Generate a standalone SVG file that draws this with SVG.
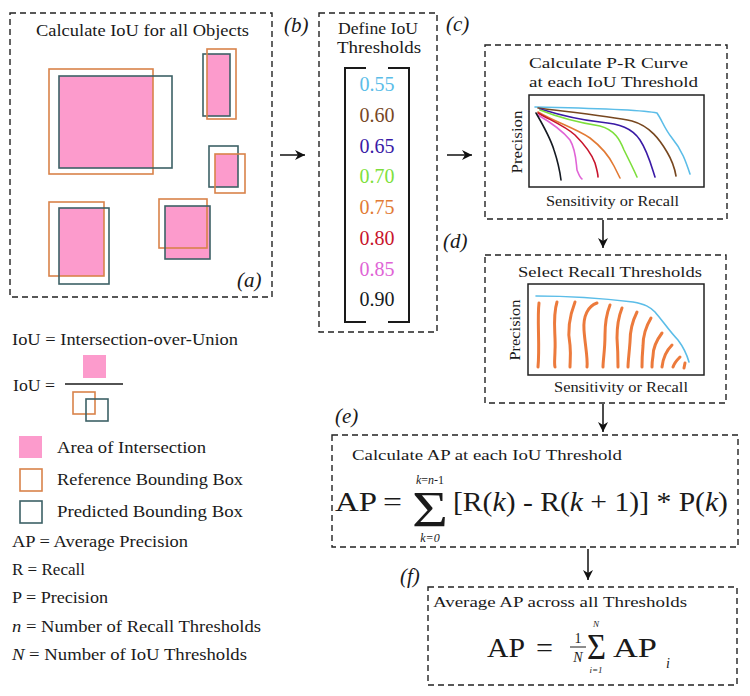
<svg xmlns="http://www.w3.org/2000/svg" width="750" height="696" viewBox="0 0 750 696" font-family="'Liberation Serif', 'Times New Roman', serif">
<defs>
<style>
text{font-family:"Liberation Serif","Times New Roman",serif;fill:#1a1a1a}
.dash{fill:none;stroke:#222;stroke-width:1.4;stroke-dasharray:6 4}
.ref{fill:none;stroke:#d9834a;stroke-width:1.6}
.pred{fill:none;stroke:#3d6166;stroke-width:1.6}
.pink{fill:#fc9bcc}
.t15{font-size:15.5px}
.t16{font-size:16px}
.lab{font-size:21px;font-style:italic}
.num{font-size:20px;text-anchor:middle}
.ax{font-size:14px}
.plot{fill:#fff;stroke:#222;stroke-width:1.5}
.cv{fill:none;stroke-width:1.6;stroke-linecap:round;stroke-linejoin:round}
.os{fill:none;stroke:#ec7a3c;stroke-width:3;stroke-linecap:round}
.br{fill:none;stroke:#1a1a1a;stroke-width:2}
.conn{stroke:#111;stroke-width:1.5;fill:none}
.big{font-size:27px}
</style>
<marker id="ah" markerWidth="12" markerHeight="12" refX="10" refY="5" orient="auto" markerUnits="userSpaceOnUse">
<path d="M0,0 L10,5 L0,10 L3,5 z" fill="#111"/>
</marker>
</defs>
<rect width="750" height="696" fill="#fff"/>

<g id="panel-a">
<rect class="dash" x="10" y="13" width="262" height="284"/>
<text class="t16" x="36" y="36" textLength="213" lengthAdjust="spacingAndGlyphs">Calculate IoU for all Objects</text>
<rect class="pink" x="59" y="76" width="94" height="92"/>
<rect class="ref" x="49" y="69" width="104" height="105"/>
<rect class="pred" x="59" y="76" width="113" height="92"/>
<rect class="pink" x="207" y="54" width="23" height="62"/>
<rect class="pred" x="203" y="54" width="27" height="62"/>
<rect class="ref" x="207" y="49" width="29" height="70"/>
<rect class="pink" x="215" y="154" width="23" height="33"/>
<rect class="pred" x="209" y="146" width="29" height="41"/>
<rect class="ref" x="215" y="154" width="30" height="39"/>
<rect class="pink" x="59" y="208" width="45" height="68"/>
<rect class="ref" x="49" y="202" width="55" height="74"/>
<rect class="pred" x="59" y="208" width="50" height="76"/>
<rect class="pink" x="165" y="206" width="45" height="53"/>
<rect class="ref" x="159" y="199" width="48" height="49"/>
<rect class="pred" x="165" y="206" width="45" height="53"/>
<text class="lab" x="237" y="287">(a)</text>
</g>

<g id="panel-b">
<rect class="dash" x="319" y="13" width="118" height="319"/>
<text class="t16" x="338" y="34" textLength="80" lengthAdjust="spacingAndGlyphs">Define IoU</text>
<text class="t16" x="337" y="53" textLength="84" lengthAdjust="spacingAndGlyphs">Thresholds</text>
<path class="br" d="M366,68 H345 V322 H366"/>
<path class="br" d="M388,68 H409 V322 H388"/>
<text class="num" x="377" y="91" style="fill:#5bbde8">0.55</text>
<text class="num" x="377" y="122" style="fill:#77471f">0.60</text>
<text class="num" x="377" y="153" style="fill:#3a1aa6">0.65</text>
<text class="num" x="377" y="183" style="fill:#7ddf3c">0.70</text>
<text class="num" x="377" y="214" style="fill:#e27a34">0.75</text>
<text class="num" x="377" y="245" style="fill:#c8142c">0.80</text>
<text class="num" x="377" y="276" style="fill:#e064d6">0.85</text>
<text class="num" x="377" y="306" style="fill:#151a22">0.90</text>
<text class="lab" x="284" y="32">(b)</text>
</g>

<g id="panel-c">
<rect class="dash" x="485" y="45" width="242" height="174"/>
<text class="t15" x="529" y="68" textLength="159" lengthAdjust="spacingAndGlyphs">Calculate P-R Curve</text>
<text class="t15" x="529" y="87" textLength="169" lengthAdjust="spacingAndGlyphs">at each IoU Threshold</text>
<rect class="plot" x="529" y="95" width="175" height="92"/>
<text class="ax" transform="translate(522,142) rotate(-90)" text-anchor="middle" textLength="63" lengthAdjust="spacingAndGlyphs">Precision</text>
<text class="ax" x="546" y="206" textLength="133" lengthAdjust="spacingAndGlyphs">Sensitivity or Recall</text>
<path class="cv" stroke="#5bbde8" d="M535,107 C580,108 640,109 657,113 C662,120 664,128 672,138 C682,150 686,162 690,174"/>
<path class="cv" stroke="#77471f" d="M538,108 C560,111 610,116 632,121 C650,126 660,140 667,152 C673,162 675,170 676,176"/>
<path class="cv" stroke="#3a1aa6" d="M540,109 C560,115 580,120 600,122 C620,124 632,128 640,140 C648,152 652,168 655,177"/>
<path class="cv" stroke="#7ddf3c" d="M540,110 C555,116 575,122 600,126 C615,130 620,140 624,150 C628,158 633,168 637,177"/>
<path class="cv" stroke="#e27a34" d="M538,112 C555,122 575,128 590,138 C603,148 610,158 614,166 C617,172 619,176 620,178"/>
<path class="cv" stroke="#c8142c" d="M538,113 C550,120 565,126 575,135 C585,145 592,155 595,163 C597,170 598,175 598,177"/>
<path class="cv" stroke="#e064d6" d="M538,115 C550,122 562,130 570,140 C576,150 576,162 577,170 C579,175 580,178 582,179"/>
<path class="cv" stroke="#151a22" d="M536,113 C543,125 550,137 554,150 C558,162 560,172 561,180"/>
<text class="lab" x="446" y="31">(c)</text>
</g>

<g id="panel-d">
<rect class="dash" x="485" y="255" width="241" height="148"/>
<text class="t15" x="518" y="277" textLength="184" lengthAdjust="spacingAndGlyphs">Select Recall Thresholds</text>
<rect class="plot" x="528" y="284" width="176" height="91"/>
<text class="ax" transform="translate(520,330) rotate(-90)" text-anchor="middle" textLength="61" lengthAdjust="spacingAndGlyphs">Precision</text>
<text class="ax" x="554" y="392" textLength="134" lengthAdjust="spacingAndGlyphs">Sensitivity or Recall</text>
<path class="cv" stroke="#5bbde8" d="M536,296 C560,296 600,298 633,302 C645,304 650,307 655,312 C662,320 670,332 678,340 C684,348 687,355 689,362"/>
<path class="os" d="M539,303 C537,320 540,345 538,367"/>
<path class="os" d="M557,302 C552,318 556,335 555,350 C555,358 554,363 555,367"/>
<path class="os" d="M575,302 C570,315 567,330 570,345 C571,355 570,362 570,367"/>
<path class="os" d="M597,303 C588,306 583,316 584,330 C585,345 588,358 587,367"/>
<path class="os" d="M610,305 C606,315 605,325 605,335 C605,350 603,360 603,367"/>
<path class="os" d="M622,308 C618,318 617,328 617,338 C618,352 618,362 618,367"/>
<path class="os" d="M637,312 C632,322 630,332 630,342 C629,355 628,362 628,367"/>
<path class="os" d="M651,318 C645,328 643,338 643,346 C642,357 642,363 642,367"/>
<path class="os" d="M662,333 C656,341 653,350 653,356 C652,362 652,365 652,367"/>
<path class="os" d="M672,345 C666,351 663,358 662,367"/>
<path class="os" d="M680,357 C676,361 674,364 673,367"/>
<path class="os" d="M685,363 L684,368"/>
<text class="lab" x="443" y="248">(d)</text>
</g>

<g id="panel-e">
<rect class="dash" x="332" y="435" width="406" height="112"/>
<text class="t15" x="352" y="460" textLength="270" lengthAdjust="spacingAndGlyphs">Calculate AP at each IoU Threshold</text>
<text class="big" x="335" y="511" textLength="42" lengthAdjust="spacingAndGlyphs">AP</text>
<text class="big" x="383" y="511" textLength="19" lengthAdjust="spacingAndGlyphs">=</text>
<text x="412" y="526" style="font-size:50px" textLength="36" lengthAdjust="spacingAndGlyphs">Σ</text>
<text x="430" y="484" text-anchor="middle" style="font-size:12px"><tspan font-style="italic">k</tspan>=<tspan font-style="italic">n</tspan>-1</text>
<text x="430" y="542" text-anchor="middle" style="font-size:12px;font-style:italic">k=0</text>
<text class="big" x="453" y="511" textLength="275" lengthAdjust="spacingAndGlyphs">[R(<tspan font-style="italic">k</tspan>) - R(<tspan font-style="italic">k</tspan> + 1)] * P(<tspan font-style="italic">k</tspan>)</text>
<text class="lab" x="335" y="423">(e)</text>
</g>

<g id="panel-f">
<rect class="dash" x="428" y="587" width="309" height="98"/>
<text class="t15" x="433" y="607" textLength="254" lengthAdjust="spacingAndGlyphs">Average AP across all Thresholds</text>
<text class="big" x="487" y="657" textLength="38" lengthAdjust="spacingAndGlyphs">AP</text>
<text class="big" x="536" y="657" textLength="17" lengthAdjust="spacingAndGlyphs">=</text>
<text x="578" y="643" text-anchor="middle" style="font-size:14px">1</text>
<line x1="570" y1="647" x2="586" y2="647" stroke="#1a1a1a" stroke-width="1"/>
<text x="578" y="662" text-anchor="middle" style="font-size:14px;font-style:italic">N</text>
<text x="587" y="659" style="font-size:36px" textLength="19" lengthAdjust="spacingAndGlyphs">Σ</text>
<text x="596" y="627" text-anchor="middle" style="font-size:9px;font-style:italic">N</text>
<text x="596" y="673" text-anchor="middle" style="font-size:9px;font-style:italic">i=1</text>
<text class="big" x="613" y="657" textLength="44" lengthAdjust="spacingAndGlyphs">AP</text>
<text x="666" y="668" style="font-size:14px;font-style:italic">i</text>
<text class="lab" x="400" y="583">(f)</text>
</g>

<g id="legend">
<text class="t16" x="12" y="345" textLength="226" lengthAdjust="spacingAndGlyphs">IoU = Intersection-over-Union</text>
<text class="t16" x="13" y="391" textLength="42" lengthAdjust="spacingAndGlyphs">IoU =</text>
<rect class="pink" x="83" y="355" width="23" height="23"/>
<line x1="65" y1="384" x2="123" y2="384" stroke="#1a1a1a" stroke-width="1.3"/>
<rect class="ref" x="73" y="392" width="22" height="22"/>
<rect class="pred" x="86" y="399" width="22" height="22"/>
<rect class="pink" x="19" y="436" width="23" height="22"/>
<text class="t16" x="57" y="453" textLength="149" lengthAdjust="spacingAndGlyphs">Area of Intersection</text>
<rect class="ref" x="20" y="469" width="22" height="22"/>
<text class="t16" x="57" y="485" textLength="186" lengthAdjust="spacingAndGlyphs">Reference Bounding Box</text>
<rect class="pred" x="20" y="501" width="22" height="22"/>
<text class="t16" x="57" y="517" textLength="186" lengthAdjust="spacingAndGlyphs">Predicted Bounding Box</text>
<text class="t16" x="12" y="547" textLength="176" lengthAdjust="spacingAndGlyphs">AP = Average Precision</text>
<text class="t16" x="12" y="575" textLength="73" lengthAdjust="spacingAndGlyphs">R = Recall</text>
<text class="t16" x="12" y="603" textLength="96" lengthAdjust="spacingAndGlyphs">P = Precision</text>
<text class="t16" x="12" y="632" textLength="249" lengthAdjust="spacingAndGlyphs"><tspan font-style="italic">n</tspan> = Number of Recall Thresholds</text>
<text class="t16" x="12" y="660" textLength="235" lengthAdjust="spacingAndGlyphs"><tspan font-style="italic">N</tspan> = Number of IoU Thresholds</text>
</g>

<g id="connectors">
<line class="conn" x1="280" y1="155" x2="305" y2="155" marker-end="url(#ah)"/>
<line class="conn" x1="447" y1="155" x2="472" y2="155" marker-end="url(#ah)"/>
<line class="conn" x1="603" y1="220" x2="603" y2="248" marker-end="url(#ah)"/>
<line class="conn" x1="603" y1="404" x2="603" y2="432" marker-end="url(#ah)"/>
<line class="conn" x1="588" y1="549" x2="588" y2="580" marker-end="url(#ah)"/>
</g>
</svg>
